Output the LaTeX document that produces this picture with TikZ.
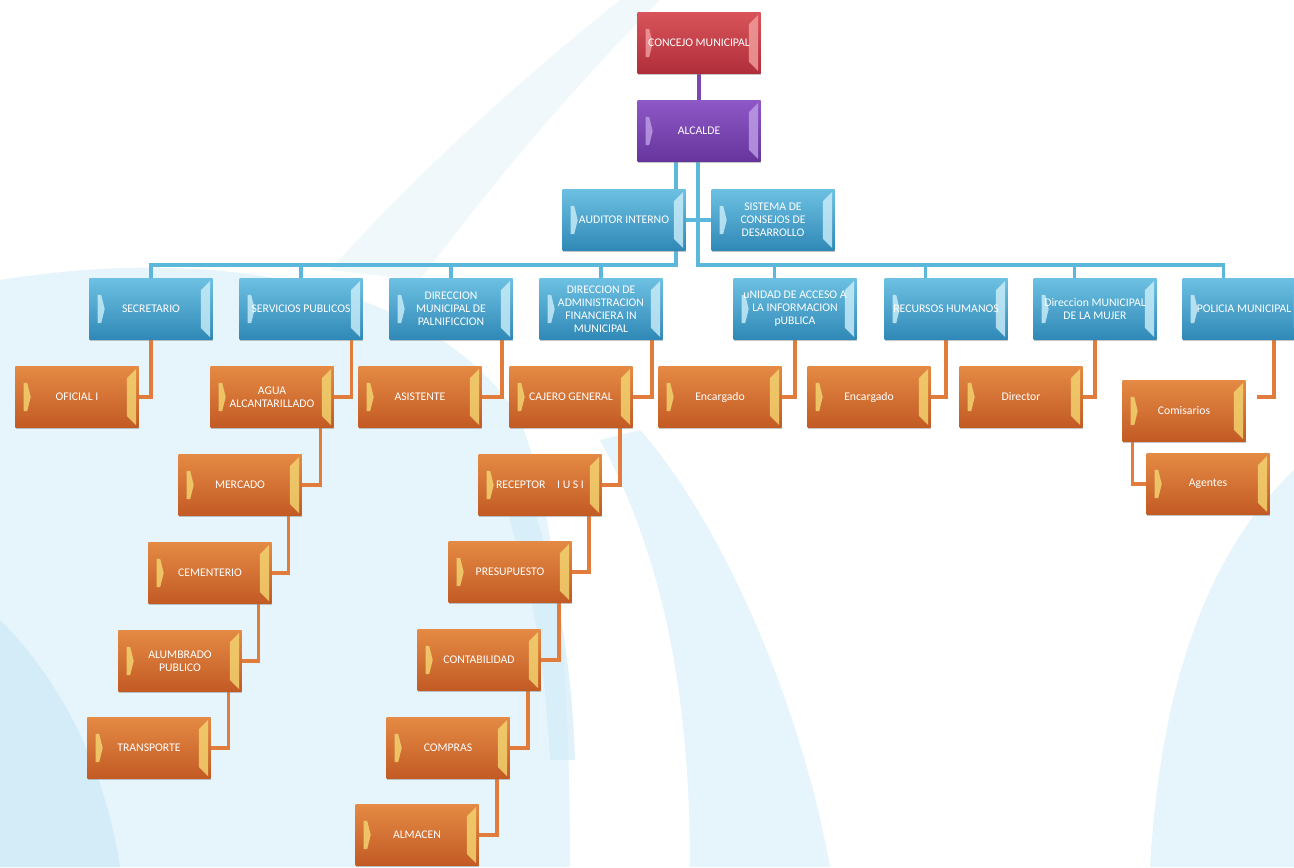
\documentclass[tikz,border=0pt]{standalone}
\usepackage{fontspec}
\setmainfont{Carlito}
\usetikzlibrary{shadows}
\pgfdeclarelayer{back}
\pgfdeclarelayer{links}
\pgfsetlayers{back,links,main}
\definecolor{redT}{HTML}{D8545A}
\definecolor{redB}{HTML}{B02E3A}
\definecolor{redL}{HTML}{F2A0A0}
\definecolor{purT}{HTML}{8E58C6}
\definecolor{purB}{HTML}{66359C}
\definecolor{purL}{HTML}{BFA0E6}
\definecolor{bluT}{HTML}{6CC0E2}
\definecolor{bluB}{HTML}{2F88B6}
\definecolor{bluL}{HTML}{CDEFFA}
\definecolor{orgT}{HTML}{E48A44}
\definecolor{orgB}{HTML}{C25A24}
\definecolor{orgL}{HTML}{F4D872}
\definecolor{lnBlue}{HTML}{5CB8DA}
\definecolor{lnOrange}{HTML}{E27C3C}
\definecolor{lnPurple}{HTML}{7A48AE}
\definecolor{skyA}{HTML}{E6F4FB}
\definecolor{skyB}{HTML}{D3ECF7}
\begin{document}
\begin{tikzpicture}[x=0.03cm, y=-0.03cm, line join=round,
	bevel/.style={path picture={
		\fill[#1, opacity=.8] ([xshift=-2pt,yshift=-2pt]path picture bounding box.north east) -- ([xshift=-2pt,yshift=2pt]path picture bounding box.south east) -- ([xshift=-10pt,yshift=10pt]path picture bounding box.south east) -- ([xshift=-10pt,yshift=-10pt]path picture bounding box.north east) -- cycle;
		\fill[#1, opacity=.8] ([xshift=7pt,yshift=-14pt]path picture bounding box.north west) -- ([xshift=10pt,yshift=-14pt]path picture bounding box.north west) -- ([xshift=13pt]path picture bounding box.west) -- ([xshift=10pt,yshift=14pt]path picture bounding box.south west) -- ([xshift=7pt,yshift=14pt]path picture bounding box.south west) -- cycle;
	}},
	box/.style={rectangle, minimum width=3.69cm, minimum height=1.83cm, inner sep=1pt, align=center, text=white, font=\fontsize{10}{11}\selectfont, drop shadow={shadow xshift=0.6pt, shadow yshift=-1.3pt, opacity=.45}},
	redbox/.style={box, top color=redT, bottom color=redB, bevel=redL},
	purbox/.style={box, top color=purT, bottom color=purB, bevel=purL},
	blubox/.style={box, top color=bluT, bottom color=bluB, bevel=bluL},
	orgbox/.style={box, top color=orgT, bottom color=orgB, bevel=orgL},
	blink/.style={draw=lnBlue, line width=3pt},
	olink/.style={draw=lnOrange, line width=3pt},
	plink/.style={draw=lnPurple, line width=3pt}]
	\def\px{0.03cm}
	\useasboundingbox (0,0) rectangle (1294,867);
	\clip (0,0) rectangle (1294,867);
	% fondo
	\begin{pgfonlayer}{back}
		\fill[white] (0,0) rectangle (1294,867);
		\fill[skyA] (0,280) .. controls (250,240) and (450,300) .. (520,420) .. controls (560,520) and (570,700) .. (570,867) -- (0,867) -- cycle;
		\fill[skyB] (0,620) .. controls (80,700) and (110,800) .. (120,867) -- (0,867) -- cycle;
		\fill[skyB, opacity=.7] (490,470) .. controls (530,560) and (545,660) .. (550,760) -- (575,760) .. controls (572,660) and (555,560) .. (520,470) -- cycle;
		\fill[skyA] (640,430) .. controls (720,520) and (800,700) .. (830,867) -- (690,867) .. controls (690,700) and (665,560) .. (600,440) -- cycle;
		\fill[skyA] (1294,470) .. controls (1200,560) and (1160,700) .. (1150,867) -- (1294,867) -- cycle;
		\fill[skyA, opacity=.6] (330,270) .. controls (420,170) and (520,80) .. (620,0) -- (660,0) .. controls (560,100) and (480,200) .. (420,280) -- cycle;
	\end{pgfonlayer}
	% niveles superiores
	\node[redbox] (concejo) at (699,43) {CONCEJO MUNICIPAL};
	\node[purbox] (alcalde) at (699,131) {ALCALDE};
	\node[blubox] (auditor) at (624,220) {AUDITOR INTERNO};
	\node[blubox] (sistema) at (773,220) {SISTEMA DE\\CONSEJOS DE\\DESARROLLO};
	% direcciones
	\node[blubox] (secretario) at (151,309) {SECRETARIO};
	\node[blubox] (servicios) at (301,309) {SERVICIOS PUBLICOS};
	\node[blubox] (planificacion) at (451,309) {DIRECCION\\MUNICIPAL DE\\PALNIFICCION};
	\node[blubox] (finanzas) at (601,309) {DIRECCION DE\\ADMINISTRACION\\FINANCIERA IN\\MUNICIPAL};
	\node[blubox] (acceso) at (795,309) {uNIDAD DE ACCESO A\\LA INFORMACION\\pUBLICA};
	\node[blubox] (rrhh) at (946,309) {RECURSOS HUMANOS};
	\node[blubox] (mujer) at (1095,309) {Direccion MUNICIPAL\\DE LA MUJER};
	\node[blubox] (policia) at (1244,309) {POLICIA MUNICIPAL};
	% unidades
	\node[orgbox] (oficial) at (77,397) {OFICIAL I};
	\node[orgbox] (agua) at (272,397) {AGUA\\ALCANTARILLADO};
	\node[orgbox] (mercado) at (240,485) {MERCADO};
	\node[orgbox] (cementerio) at (210,573) {CEMENTERIO};
	\node[orgbox] (alumbrado) at (180,661) {ALUMBRADO\\PUBLICO};
	\node[orgbox] (transporte) at (149,748) {TRANSPORTE};
	\node[orgbox] (asistente) at (420,397) {ASISTENTE};
	\node[orgbox] (cajero) at (571,397) {CAJERO GENERAL};
	\node[orgbox] (receptor) at (540,485) {RECEPTOR\quad I U S I};
	\node[orgbox] (presupuesto) at (510,572) {PRESUPUESTO};
	\node[orgbox] (contabilidad) at (479,660) {CONTABILIDAD};
	\node[orgbox] (compras) at (448,748) {COMPRAS};
	\node[orgbox] (almacen) at (417,835) {ALMACEN};
	\node[orgbox] (encargadoA) at (720,397) {Encargado};
	\node[orgbox] (encargadoB) at (869,397) {Encargado};
	\node[orgbox] (director) at (1021,397) {Director};
	\node[orgbox] (comisarios) at (1184,411) {Comisarios};
	\node[orgbox] (agentes) at (1208,484) {Agentes};
	\coordinate (busL) at (676,265);
	\coordinate (busR) at (698,265);
	\coordinate (policia-end) at (1257,397);
	\foreach \n in {acceso,rrhh,mujer,policia}
		\coordinate (\n-in) at ([xshift=41*\px]\n.north west);
	% conectores
	\begin{pgfonlayer}{links}
		\draw[plink] (concejo) -- (alcalde);
		\draw[blink] (alcalde.south -| busL) -- (busL) -- (busL -| secretario.north) -- (secretario.north);
		\draw[blink] (alcalde.south -| busR) -- (busR) -- (busR -| policia-in) -- (policia-in);
		\foreach \n in {servicios,planificacion,finanzas}
			\draw[blink] (\n.north |- busL) -- (\n.north);
		\foreach \n in {acceso,rrhh,mujer}
			\draw[blink] (\n-in |- busR) -- (\n-in);
		\draw[blink] (auditor) -- (sistema);
		\draw[olink] (secretario.south) |- (oficial.east);
		\draw[olink] ([xshift=-11*\px]servicios.south east) |- (agua.east);
		\draw[olink] ([xshift=-11*\px]planificacion.south east) |- (asistente.east);
		\draw[olink] ([xshift=-11*\px]finanzas.south east) |- (cajero.east);
		\draw[olink] (acceso.south) |- (encargadoA.east);
		\draw[olink] (rrhh.south) |- (encargadoB.east);
		\draw[olink] (mujer.south) |- (director.east);
		\draw[olink] ([xshift=30*\px]policia.south) |- (policia-end);
		\draw[olink] ([xshift=10*\px]comisarios.south west) |- (agentes.west);
		\draw[olink] ([xshift=-13*\px]agua.south east) |- (mercado.east);
		\draw[olink] ([xshift=-13*\px]mercado.south east) |- (cementerio.east);
		\draw[olink] ([xshift=-13*\px]cementerio.south east) |- (alumbrado.east);
		\draw[olink] ([xshift=-13*\px]alumbrado.south east) |- (transporte.east);
		\draw[olink] ([xshift=-13*\px]cajero.south east) |- (receptor.east);
		\draw[olink] ([xshift=-13*\px]receptor.south east) |- (presupuesto.east);
		\draw[olink] ([xshift=-13*\px]presupuesto.south east) |- (contabilidad.east);
		\draw[olink] ([xshift=-13*\px]contabilidad.south east) |- (compras.east);
		\draw[olink] ([xshift=-13*\px]compras.south east) |- (almacen.east);
	\end{pgfonlayer}
\end{tikzpicture}
\end{document}
